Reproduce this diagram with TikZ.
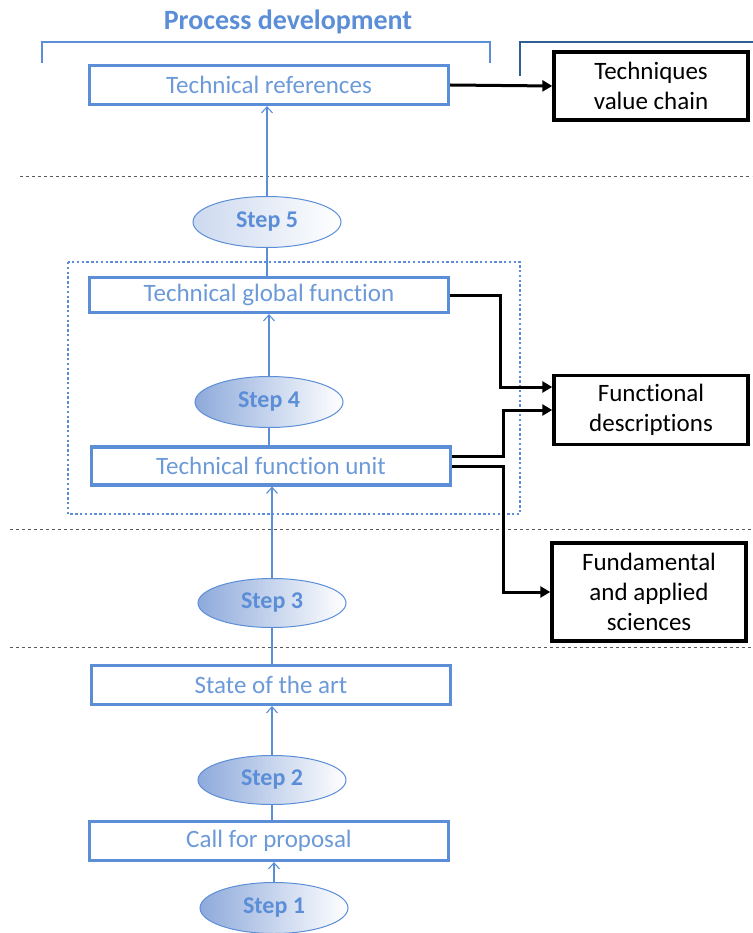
\documentclass[tikz,border=0pt]{standalone}
\usepackage{fontspec}
\setmainfont{Carlito}[Ligatures=NoCommon]
\usetikzlibrary{arrows.meta,shapes.geometric}
\definecolor{procblue}{HTML}{5B8ED6}
\definecolor{textblue}{HTML}{6C9AD8}
\definecolor{darkblue}{HTML}{2E5F93}
\definecolor{stepfill}{HTML}{8EAADB}
\tikzset{
  phasebox/.style={draw=procblue, line width=3.2pt, fill=white, text=textblue,
    minimum width=359pt, minimum height=39pt, font=\fontsize{25}{30}\selectfont},
  outbox/.style={draw=black, line width=3.4pt, fill=white, align=center,
    inner sep=0pt, font=\fontsize{25}{30}\selectfont},
  stepnode/.style={ellipse, draw=procblue, line width=1pt, left color=stepfill,
    right color=white, text=procblue, minimum width=148pt, minimum height=51pt,
    font=\bfseries\fontsize{24}{28}\selectfont},
  upflow/.style={draw=procblue, line width=1.1pt, -{Straight Barb[length=6pt,width=11pt]}},
  flow/.style={draw=procblue, line width=1.1pt},
  feed/.style={draw=black, line width=3pt, -{Triangle[length=10pt,width=11pt]}},
  zone/.style={draw=gray!70!black, dashed, line width=1pt},
}

\begin{document}
\begin{tikzpicture}[x=1pt,y=-1pt]
  \useasboundingbox (0,0) rectangle (752,933);

  % phase separators
  \draw[zone] (20,177) -- (752,177);
  \draw[zone] (10,529) -- (752,529);
  \draw[zone] (10,647) -- (752,647);

  % heading and brackets
  \node[text=procblue, font=\bfseries\fontsize{28}{32}\selectfont] (title) at (288,22) {Process development};
  \draw[procblue, line width=1.8pt] (42,63) -- (42,42) -- (490,42) -- (490,63);
  \draw[darkblue, line width=1.8pt] (520,76) -- (520,42) -- (753,42);

  % function group
  \draw[procblue, line width=2.4pt, dash pattern=on 2.4pt off 2.4pt] (68,262) rectangle (520,514);

  % process column
  \node[phasebox] (tr) at (269,85) {Technical references};
  \node[stepnode, left color=stepfill!45] (s5) at (267,222) {Step 5};
  \node[phasebox, minimum height=35pt] (tgf) at (269,295) {Technical global function};
  \node[stepnode] (s4) at (269,402) {Step 4};
  \node[phasebox, minimum height=38pt] (tfu) at (271,466) {Technical function unit};
  \node[stepnode, minimum height=49pt] (s3) at (272,603) {Step 3};
  \node[phasebox] (sota) at (271,685) {State of the art};
  \node[stepnode, minimum height=49pt] (s2) at (272,780) {Step 2};
  \node[phasebox] (cfp) at (269,841) {Call for proposal};
  \node[stepnode] (s1) at (274,908) {Step 1};

  % outputs
  \node[outbox, minimum width=194pt, minimum height=68pt] (tvc) at (651,86) {Techniques\\value chain};
  \node[outbox, minimum width=194pt, minimum height=69pt] (fd) at (651,410) {Functional\\descriptions};
  \node[outbox, minimum width=194pt, minimum height=98pt] (fas) at (649,592) {Fundamental\\and applied\\sciences};

  % flow upwards
  \draw[upflow] (s1.north) -- (s1.north |- cfp.south);
  \draw[flow] (cfp.north -| s2.south) -- (s2.south);
  \draw[upflow] (s2.north) -- (s2.north |- sota.south);
  \draw[flow] (sota.north -| s3.south) -- (s3.south);
  \draw[upflow] (s3.north) -- (s3.north |- tfu.south);
  \draw[flow] (tfu.north -| s4.south) -- (s4.south);
  \draw[upflow] (s4.north) -- (s4.north |- tgf.south);
  \draw[flow] (tgf.north -| s5.south) -- (s5.south);
  \draw[upflow] (s5.north) -- (s5.north |- tr.south);

  % outputs links
  \draw[feed] (tr.east) -- (tvc.west);
  \draw[feed] (tgf.east) -- ++(50,0) |- ([yshift=23pt]fd.west);
  \draw[feed] ([yshift=10pt]tfu.east) -- ++(51,0) |- (fd.west);
  \draw[feed] (tfu.east) -- ++(51,0) |- (fas.west);
\end{tikzpicture}
\end{document}
